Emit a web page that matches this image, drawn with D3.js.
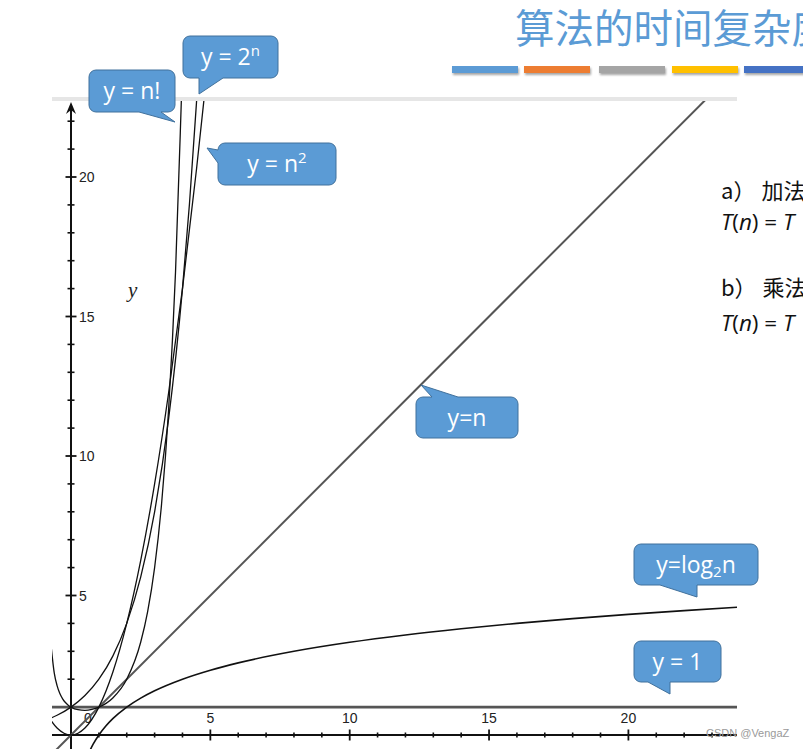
<!DOCTYPE html>
<html><head><meta charset="utf-8">
<script src="https://cdn.jsdelivr.net/npm/d3@7"></script>
<style>html,body{margin:0;padding:0;background:#fff;overflow:hidden}</style>
</head><body>
<svg id="c" width="803" height="749" xmlns="http://www.w3.org/2000/svg"></svg>
<script>
// ---------- data ----------
const titleText = "算法的时间复杂度";
const accentColors = ["#5B9BD5", "#ED7D31", "#A5A5A5", "#FFC000", "#4472C4"];

const xMajorTicks = [5, 10, 15, 20];
const xMajorLabels = ["5", "10", "15", "20"];
const yMajorTicks = [5, 10, 15, 20];
const yMajorLabels = ["5", "10", "15", "20"];
const xMinorTicks = [1,2,3,4,6,7,8,9,11,12,13,14,16,17,18,19,21,22,23];
const yMinorTicks = [1,2,3,4,6,7,8,9,11,12,13,14,16,17,18,19,21,22];

// y = 1
const constN = [-0.7, 23.9];
const constY = [1, 1];
// y = n
const linN = [-0.8, 22.8];
const linY = [-0.8, 22.8];
// y = log2 n
const logN = [0.62, 0.7, 0.8, 1, 1.25, 1.5, 2, 2.5, 3, 4, 5, 6, 8, 10, 12, 14, 16, 18, 20, 22, 23.9];
const logY = [-0.69, -0.515, -0.322, 0, 0.322, 0.585, 1, 1.322, 1.585, 2, 2.322, 2.585, 3, 3.322, 3.585, 3.807, 4, 4.17, 4.322, 4.459, 4.579];
// y = n^2
const sqN = [-0.8, -0.5, -0.25, 0, 0.25, 0.5, 1, 1.5, 2, 2.5, 3, 3.5, 4, 4.5, 4.8];
const sqY = [0.64, 0.25, 0.0625, 0, 0.0625, 0.25, 1, 2.25, 4, 6.25, 9, 12.25, 16, 20.25, 23.04];
// y = 2^n
const expN = [-0.8, -0.5, 0, 0.5, 1, 1.5, 2, 2.5, 3, 3.5, 4, 4.25, 4.5, 4.6];
const expY = [0.574, 0.707, 1, 1.414, 2, 2.828, 4, 5.657, 8, 11.31, 16, 19.03, 22.63, 24.25];
// y = n!
const factN = [-0.72, -0.6, -0.5, -0.4, -0.3, -0.2, -0.1, 0, 0.25, 0.5, 0.75, 1, 1.5, 2, 2.5, 2.75, 3, 3.25, 3.5, 3.75, 4, 4.1];
const factY = [3.25, 2.218, 1.772, 1.489, 1.298, 1.164, 1.069, 1, 0.906, 0.886, 0.919, 1, 1.329, 2, 3.323, 4.423, 6, 8.285, 11.63, 16.59, 24, 27.0];

const calloutLabels = ["y = n!", "y = 2|n", "y = n|2", "y=n", "y=log_2n", "y = 1"];

// ---------- layout ----------
const svg = d3.select("#c");
const x = d3.scaleLinear().domain([0, 20]).range([71, 628.4]);
const y = d3.scaleLinear().domain([0, 20]).range([735, 177]);

const plotLeft = 52, plotRight = 737, plotTop = 101, plotBottom = 749;

// Title
svg.append("text").attr("x", 515).attr("y", 43)
  .attr("font-family", "'Noto Sans CJK SC', sans-serif").attr("font-size", 39.5)
  .attr("fill", "#5B9BD5").text(titleText);

// accent bars
const barStarts = [452, 524, 599, 672, 744];
const defs = svg.append("defs");
const f = defs.append("filter").attr("id", "sh").attr("x", "-10%").attr("y", "-50%").attr("width", "120%").attr("height", "250%");
f.append("feDropShadow").attr("dx", 1).attr("dy", 2).attr("stdDeviation", 1.2).attr("flood-color", "#000").attr("flood-opacity", 0.35);
svg.append("g").selectAll("rect").data(accentColors).join("rect")
  .attr("x", (d, i) => barStarts[i]).attr("y", 66).attr("width", 66).attr("height", 7)
  .attr("fill", d => d).attr("filter", "url(#sh)");

// top gray line
svg.append("line").attr("x1", plotLeft).attr("x2", plotRight).attr("y1", 99).attr("y2", 99)
  .attr("stroke", "#e6e6e6").attr("stroke-width", 4);

// clip
defs.append("clipPath").attr("id", "clip").append("rect")
  .attr("x", plotLeft).attr("y", plotTop).attr("width", plotRight - plotLeft).attr("height", plotBottom - plotTop);

// axes
const ax = svg.append("g").attr("stroke", "#111");
ax.append("line").attr("x1", plotLeft).attr("x2", plotRight).attr("y1", y(0)).attr("y2", y(0)).attr("stroke-width", 2);
ax.append("line").attr("x1", x(0)).attr("x2", x(0)).attr("y1", 749).attr("y2", 108).attr("stroke-width", 2);
ax.selectAll(".xmin").data(xMinorTicks).join("line")
  .attr("x1", d => x(d)).attr("x2", d => x(d)).attr("y1", y(0) - 2.5).attr("y2", y(0) + 2.5).attr("stroke-width", 1.6);
ax.selectAll(".xmaj").data(xMajorTicks).join("line")
  .attr("x1", d => x(d)).attr("x2", d => x(d)).attr("y1", y(0) - 5.5).attr("y2", y(0) + 5.5).attr("stroke-width", 1.8);
ax.selectAll(".ymin").data(yMinorTicks).join("line")
  .attr("y1", d => y(d)).attr("y2", d => y(d)).attr("x1", x(0) - 3.5).attr("x2", x(0) + 3.5).attr("stroke-width", 1.6);
ax.selectAll(".ymaj").data(yMajorTicks).join("line")
  .attr("y1", d => y(d)).attr("y2", d => y(d)).attr("x1", x(0) - 5.5).attr("x2", x(0) + 5.5).attr("stroke-width", 1.8);
// arrowhead
svg.append("path").attr("d", `M${x(0)},102 L${x(0) - 5},114 L${x(0)},110 L${x(0) + 5},114 Z`).attr("fill", "#111");

const labelFont = "'Liberation Sans', Arial, sans-serif";
svg.append("g").selectAll("text").data(xMajorTicks).join("text")
  .attr("x", d => x(d)).attr("y", 723).attr("text-anchor", "middle")
  .attr("font-family", labelFont).attr("font-size", 14).attr("fill", "#222")
  .text((d, i) => xMajorLabels[i]);
svg.append("text").attr("x", 88).attr("y", 723).attr("text-anchor", "middle")
  .attr("font-family", labelFont).attr("font-size", 14).attr("fill", "#222").text("0");
svg.append("g").selectAll("text").data(yMajorTicks).join("text")
  .attr("x", 79).attr("y", d => y(d) + 5)
  .attr("font-family", labelFont).attr("font-size", 14).attr("fill", "#222")
  .text((d, i) => yMajorLabels[i]);
svg.append("text").attr("x", 128).attr("y", 297).attr("font-family", "'Liberation Serif', 'DejaVu Serif', serif")
  .attr("font-style", "italic").attr("font-size", 21).attr("fill", "#222").text("y");

// curves
const zip = (a, b) => a.map((v, i) => [v, b[i]]);
const line = d3.line().x(d => x(d[0])).y(d => y(d[1])).curve(d3.curveMonotoneX);
const cg = svg.append("g").attr("clip-path", "url(#clip)").attr("fill", "none");
cg.append("path").datum(zip(constN, constY)).attr("d", line).attr("stroke", "#555").attr("stroke-width", 2.6);
cg.append("path").datum(zip(linN, linY)).attr("d", line).attr("stroke", "#555").attr("stroke-width", 2);
cg.append("path").datum(zip(logN, logY)).attr("d", line).attr("stroke", "#111").attr("stroke-width", 1.6);
cg.append("path").datum(zip(sqN, sqY)).attr("d", line).attr("stroke", "#111").attr("stroke-width", 1.3);
cg.append("path").datum(zip(expN, expY)).attr("d", line).attr("stroke", "#111").attr("stroke-width", 1.3);
cg.append("path").datum(zip(factN, factY)).attr("d", line).attr("stroke", "#111").attr("stroke-width", 1.3);

// right side text
const cjk = "'Noto Sans CJK SC', sans-serif";
function rule(label, word, yy) {
  const t = svg.append("text").attr("x", 721).attr("y", yy).attr("font-family", cjk).attr("font-size", 22).attr("fill", "#111");
  t.append("tspan").text(label);
  t.append("tspan").attr("dx", 6).text(word);
}
rule("a）", "加法", 199);
rule("b）", "乘法", 296);
function tn(yy) {
  const t = svg.append("text").attr("x", 721).attr("y", yy).attr("font-family", "'Open Sans', sans-serif").attr("font-size", 22.5).attr("fill", "#111");
  t.append("tspan").attr("font-style", "italic").text("T");
  t.append("tspan").text("(");
  t.append("tspan").attr("font-style", "italic").text("n");
  t.append("tspan").text(") = ");
  t.append("tspan").attr("font-style", "italic").text("T");
}
tn(230); tn(331);

// callouts
const callouts = [
  {x: 89, y: 70, w: 86, h: 42, side: "bottom", base: [161, 139], tip: [175, 122]},
  {x: 183, y: 36, w: 95, h: 42, side: "bottom", base: [223, 199], tip: [199, 94]},
  {x: 218, y: 143, w: 118, h: 42, side: "left", base: [163, 150], tip: [207, 148]},
  {x: 416, y: 397, w: 102, h: 41, side: "top", base: [432, 458], tip: [421, 385]},
  {x: 634, y: 544, w: 124, h: 41, side: "bottom", base: [697, 660], tip: [697, 597]},
  {x: 634, y: 641, w: 87, h: 41, side: "bottom", base: [670, 648], tip: [670, 694]}
];
function calloutPath(c) {
  const r = 7, {x: X, y: Y, w, h} = c, p = d3.path();
  p.moveTo(X + r, Y);
  if (c.side === "top") { p.lineTo(c.base[0], Y); p.lineTo(c.tip[0], c.tip[1]); p.lineTo(c.base[1], Y); }
  p.lineTo(X + w - r, Y); p.arcTo(X + w, Y, X + w, Y + r, r);
  p.lineTo(X + w, Y + h - r); p.arcTo(X + w, Y + h, X + w - r, Y + h, r);
  if (c.side === "bottom") { p.lineTo(c.base[0], Y + h); p.lineTo(c.tip[0], c.tip[1]); p.lineTo(c.base[1], Y + h); }
  p.lineTo(X + r, Y + h); p.arcTo(X, Y + h, X, Y + h - r, r);
  if (c.side === "left") { p.lineTo(X, c.base[0]); p.lineTo(c.tip[0], c.tip[1]); p.lineTo(X, c.base[1]); }
  p.lineTo(X, Y + r); p.arcTo(X, Y, X + r, Y, r);
  p.closePath();
  return p.toString();
}
const cg2 = svg.append("g");
callouts.forEach((c, i) => {
  cg2.append("path").attr("d", calloutPath(c)).attr("fill", "#5B9BD5").attr("stroke", "#41719C").attr("stroke-width", 1);
  const t = cg2.append("text").attr("x", c.x + c.w / 2).attr("y", c.y + c.h / 2 + 8)
    .attr("text-anchor", "middle").attr("font-family", "'Open Sans', sans-serif").attr("font-size", 23).attr("fill", "#fff");
  const lab = calloutLabels[i];
  if (lab.includes("|")) {
    const [a, b] = lab.split("|");
    t.append("tspan").text(a);
    t.append("tspan").attr("font-size", 15).attr("dy", -9).text(b);
  } else if (lab.includes("_")) {
    const [a, rest] = lab.split("_");
    t.append("tspan").text(a);
    t.append("tspan").attr("font-size", 15).attr("dy", 4).text(rest[0]);
    t.append("tspan").attr("dy", -4).text(rest.slice(1));
  } else t.text(lab);
});

// watermark
svg.append("text").attr("x", 706).attr("y", 737).attr("font-family", "'Liberation Sans', Arial, sans-serif")
  .attr("font-size", 11).attr("fill", "#9a9a9a").text("CSDN @VengaZ");
</script>
</body></html>
